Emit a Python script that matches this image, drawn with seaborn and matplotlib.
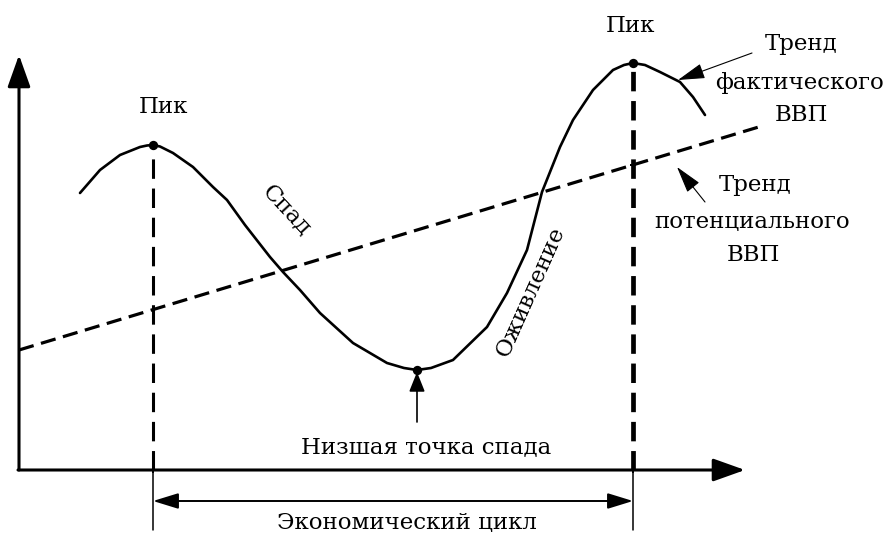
import numpy as np
import pandas as pd
import matplotlib
matplotlib.use("Agg")
import matplotlib.pyplot as plt
import seaborn as sns

sns.set_theme(style="white")
plt.rcParams['font.family'] = ['DejaVu Serif']
plt.rcParams['lines.scale_dashes'] = False

fs = 16.5
ink = "#000000"

time_actual = [61, 81, 101, 121, 128, 134, 141, 154, 174, 194, 208, 226, 251, 264, 281, 301,
               334, 368, 385, 398, 412, 434, 468, 488, 508, 523, 541, 554, 574, 594, 605, 614,
               626, 641, 661, 674, 686]
gdp_actual = [277, 300, 315, 323, 324.5, 325, 323.5, 317, 303, 283, 270, 245, 213, 198, 180, 157,
              127, 107, 102, 100, 102, 110, 143, 177, 220, 278, 323, 350, 380, 400, 405, 407,
              405, 398, 388, 373, 355]

# potential GDP trend
time_trend = [0, 743]
gdp_trend = [120, 344]

# key points
peak_t = [134, 614]
peak_g = [325, 407]
trough_t = 398
trough_g = 100

x_axis_end = 726
y_axis_end = 415

df_actual = pd.DataFrame({"t": time_actual, "g": gdp_actual})
df_trend = pd.DataFrame({"t": time_trend, "g": gdp_trend})

fig = plt.figure(figsize=(8.86, 5.33), dpi=100)
ax = fig.add_axes([0, 0, 1, 1])
ax.set_xlim(-19, 867)
ax.set_ylim(-63, 470)
ax.axis("off")

# curves
sns.lineplot(data=df_actual, x="t", y="g", sort=False, estimator=None,
             color=ink, lw=1.9, ax=ax)
sns.lineplot(data=df_trend, x="t", y="g", sort=False, estimator=None,
             color=ink, lw=2.3, ax=ax).lines[-1].set_dashes((11, 5.5))

# vertical dashed lines at peaks
ax.plot([peak_t[0], peak_t[0]], [0, peak_g[0]], color=ink, lw=2.2, dashes=(14, 7))
ax.plot([peak_t[1], peak_t[1]], [0, peak_g[1]], color=ink, lw=3.4, dashes=(14, 7))

# axes with arrows
arr = dict(arrowstyle="-|>,head_length=1.4,head_width=0.5", lw=2.2, color=ink,
           mutation_scale=14, shrinkA=0, shrinkB=0)
ax.annotate("", xy=(0, y_axis_end), xytext=(0, 0), arrowprops=arr)
ax.annotate("", xy=(x_axis_end, 0), xytext=(-1, 0), arrowprops=arr)

# points
trend_at_peak = gdp_trend[0] + (gdp_trend[1] - gdp_trend[0]) * peak_t[1] / time_trend[1]
sns.scatterplot(x=peak_t + [trough_t], y=peak_g + [trough_g], s=45, color=ink,
                linewidth=0, ax=ax, zorder=5)
sns.scatterplot(x=peak_t + [peak_t[1]], y=[0, 0, trend_at_peak], s=22, color=ink,
                marker="P", linewidth=0, ax=ax, zorder=5)

# cycle span
ax.plot([peak_t[0], peak_t[0]], [0, -60], color=ink, lw=1.1)
ax.plot([peak_t[1], peak_t[1]], [0, -60], color=ink, lw=1.1)
ax.annotate("", xy=(peak_t[0], -31), xytext=(peak_t[1], -31),
            arrowprops=dict(arrowstyle="<|-|>,head_length=1.3,head_width=0.4",
                            lw=1.4, color=ink, mutation_scale=12, shrinkA=0, shrinkB=0))
ax.text(388, -53, "Экономический цикл", fontsize=fs, ha="center", va="center", color=ink)

# trough
ax.annotate("", xy=(trough_t, trough_g - 2), xytext=(trough_t, 48),
            arrowprops=dict(arrowstyle="-|>,head_length=1.0,head_width=0.4",
                            lw=1.2, color=ink, mutation_scale=12, shrinkA=0, shrinkB=0))
ax.text(407, 23, "Низшая точка спада", fontsize=fs, ha="center", va="center", color=ink)

# labels
ax.text(144, 363, "Пик", fontsize=fs, ha="center", va="center", color=ink)
ax.text(611, 444, "Пик", fontsize=fs, ha="center", va="center", color=ink)
ax.text(268, 260, "Спад", fontsize=fs, ha="center", va="center", rotation=-47, color=ink)
ax.text(512, 178, "Оживление", fontsize=fs, ha="center", va="center", rotation=66, color=ink)

ax.text(782, 426, "Тренд", fontsize=fs, ha="center", va="center", color=ink)
ax.text(781, 387, "фактического", fontsize=fs, ha="center", va="center", color=ink)
ax.text(782, 355, "ВВП", fontsize=fs, ha="center", va="center", color=ink)
ax.annotate("", xy=(659, 390), xytext=(733, 417),
            arrowprops=dict(arrowstyle="-|>,head_length=1.4,head_width=0.4",
                            lw=0.8, color=ink, mutation_scale=12, shrinkA=0, shrinkB=0))

ax.text(736, 285, "Тренд", fontsize=fs, ha="center", va="center", color=ink)
ax.text(733, 248, "потенциального", fontsize=fs, ha="center", va="center", color=ink)
ax.text(734, 215, "ВВП", fontsize=fs, ha="center", va="center", color=ink)
ax.annotate("", xy=(658, 303), xytext=(686, 268),
            arrowprops=dict(arrowstyle="-|>,head_length=1.4,head_width=0.4",
                            lw=0.8, color=ink, mutation_scale=12, shrinkA=0, shrinkB=0))

fig.savefig("out.png", dpi=100)
